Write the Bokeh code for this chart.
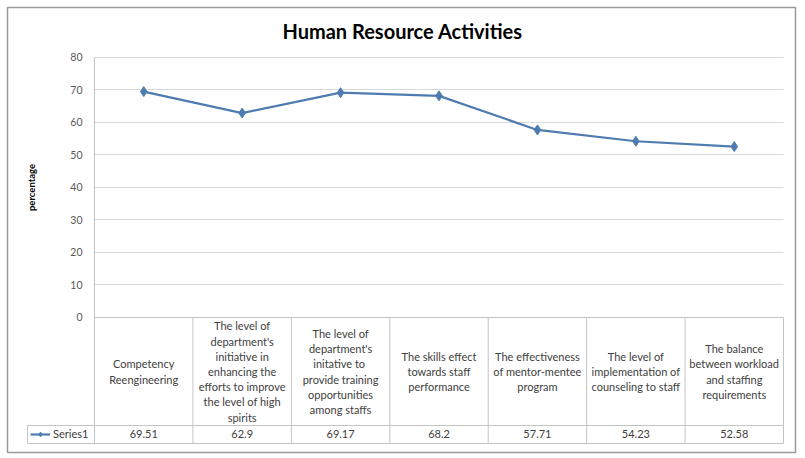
import math

import bokeh.plotting
from bokeh.core.properties import value
from bokeh.embed import file_html
from bokeh.models import FixedTicker, Legend, LegendItem, Range1d
from bokeh.resources import INLINE

# Data
categories = [
    "Competency\nReengineering",
    "The level of\ndepartment's\ninitiative in\nenhancing the\nefforts to improve\nthe level of high\nspirits",
    "The level of\ndepartment's\ninitative  to\nprovide training\nopportunities\namong staffs",
    "The skills effect\ntowards staff\nperformance",
    "The effectiveness\nof mentor-mentee\nprogram",
    "The level of\nimplementation of\ncounseling to staff",
    "The balance\nbetween workload\nand staffing\nrequirements",
]
percentages = [69.51, 62.9, 69.17, 68.2, 57.71, 54.23, 52.58]
y_ticks = [0, 10, 20, 30, 40, 50, 60, 70, 80]
series_name = "Series1"
chart_title = "Human Resource Activities"
y_label = "percentage"

font = "Lato"
line_color = "#4f7cb0"
table_color = "#c4c4c4"
text_color = "#404040"

# layout in data units: one unit per category column, table below zero
header_bottom = -33.23
table_bottom = -38.77
legend_left = -0.68

n = len(categories)
xs = [i + 0.5 for i in range(n)]

# the frame is the whole chart box, its outline is the chart border
p = bokeh.plotting.figure(
    width=797,
    height=454,
    x_range=Range1d(-0.884, 7.122),
    y_range=Range1d(-41.54, 95.38),
    output_backend="svg",
    toolbar_location=None,
    min_border_left=7,
    min_border_right=2,
    min_border_top=7,
    min_border_bottom=2,
    x_axis_location=None,
)
p.outline_line_color = "#9a9a9a"
p.outline_line_width = 1.5

# y axis: labels pushed inward to sit beside the plot area
p.yaxis.ticker = FixedTicker(ticks=y_ticks)
p.yaxis.axis_line_color = None
p.yaxis.major_tick_line_color = None
p.yaxis.minor_tick_line_color = None
p.yaxis.major_tick_out = 0
p.yaxis.major_label_standoff = -75
p.yaxis.major_label_text_font = font
p.yaxis.major_label_text_font_size = "10.5px"
p.yaxis.major_label_text_color = "#595959"

p.ygrid.ticker = FixedTicker(ticks=y_ticks)
p.ygrid.cross_bounds = (0, n)
p.ygrid.grid_line_color = "#d9d9d9"
p.xgrid.visible = False

# title and axis title
p.text(
    x=[3.13],
    y=[88.3],
    text=[chart_title],
    text_align="center",
    text_baseline="middle",
    text_font=value(font),
    text_font_size="20px",
    text_font_style="bold",
    text_color="#000000",
)
p.text(
    x=[-0.64],
    y=[40],
    text=[y_label],
    angle=math.pi / 2,
    text_align="center",
    text_baseline="middle",
    text_font=value(font),
    text_font_size="9.5px",
    text_font_style="bold",
    text_color="#000000",
)

# axis line and data table under the plot
p.segment(
    x0=[0, 0, legend_left, legend_left, legend_left] + list(range(1, n + 1)),
    y0=[80, 0, header_bottom, table_bottom, header_bottom] + [0] * n,
    x1=[0, n, n, n, legend_left] + list(range(1, n + 1)),
    y1=[table_bottom, 0, header_bottom, table_bottom, table_bottom]
    + [table_bottom] * n,
    line_color=table_color,
    line_width=1,
)
p.text(
    x=xs,
    y=[header_bottom / 2] * n,
    text=categories,
    text_align="center",
    text_baseline="middle",
    text_font=value(font),
    text_font_size="11px",
    text_line_height=1.17,
    text_color=text_color,
)
p.text(
    x=xs,
    y=[(header_bottom + table_bottom) / 2] * n,
    text=[str(v) for v in percentages],
    text_align="center",
    text_baseline="middle",
    text_font=value(font),
    text_font_size="11px",
    text_color=text_color,
)

# series
line_r = p.line(xs, percentages, line_color=line_color, line_width=2.2)
mark_r = p.scatter(xs, percentages, marker="diamond", size=10, color=line_color)

legend = Legend(
    items=[LegendItem(label=series_name, renderers=[line_r, mark_r])],
    location=(23, 12),
    padding=0,
    margin=0,
    label_standoff=3,
    glyph_width=20,
    glyph_height=12,
    label_height=12,
    label_text_font=font,
    label_text_font_size="11px",
    label_text_color=text_color,
    border_line_alpha=0,
    background_fill_alpha=0,
)
p.add_layout(legend)

open("out.html", "w").write(file_html(p, INLINE))
